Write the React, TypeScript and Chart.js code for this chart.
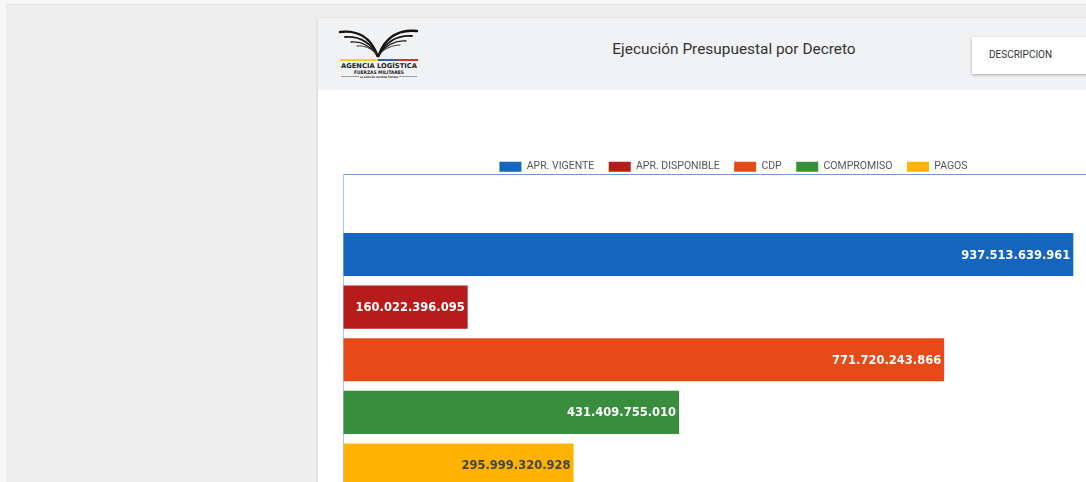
import React, { useEffect, useRef } from 'react';
import { Chart, registerables } from 'chart.js';

Chart.register(...registerables);

const categories = ['DESCRIPCION'];
const seriesLabels = ['APR. VIGENTE', 'APR. DISPONIBLE', 'CDP', 'COMPROMISO', 'PAGOS'];
const seriesValues = [937513639961, 160022396095, 771720243866, 431409755010, 295999320928];
const seriesColors = ['#1565c0', '#b71c1c', '#e64a19', '#388e3c', '#ffb300'];
const labelColors = ['#ffffff', '#ffffff', '#ffffff', '#ffffff', '#444444'];
const axisMin = 0;
const axisMax = 1000000000000;
const axisStep = 50000000000;

function fmt(v: number): string {
  return Math.round(v).toString().replace(/\B(?=(\d{3})+(?!\d))/g, '.');
}

const valueLabelPlugin = {
  id: 'valueLabels',
  afterDatasetsDraw(chart: any) {
    const ctx = chart.ctx;
    chart.data.datasets.forEach((ds: any, i: number) => {
      const meta = chart.getDatasetMeta(i);
      meta.data.forEach((bar: any, j: number) => {
        const v = ds.data[j];
        ctx.save();
        ctx.font = 'bold 11.5px "DejaVu Sans"';
        ctx.fillStyle = labelColors[i];
        ctx.textAlign = 'right';
        ctx.textBaseline = 'middle';
        ctx.fillText(fmt(v), bar.x - 3, bar.y + 1);
        ctx.restore();
      });
    });
  },
};

const legendShrinkPlugin = {
  id: 'legendShrink',
  afterInit(chart: any) {
    const legend = chart.legend;
    if (!legend) return;
    const orig = legend.fit;
    legend.fit = function () {
      orig.call(this);
      this.height -= 7.5;
    };
  },
  afterLayout(chart: any) {
    const legend = chart.legend;
    if (!legend) return;
    legend.left += 5;
    legend.right += 5;
  },
};

function Logo() {
  return (
    <svg width={84} height={56} viewBox="0 0 84 56" style={{ position: 'absolute', left: 337, top: 27 }}>
      <path d="M3 5 C 20 3, 34 10, 40.5 29" stroke="#111" strokeWidth={2.4} fill="none" strokeLinecap="round" />
      <path d="M8 10 C 22 9, 33 15, 40 28" stroke="#1a1a1a" strokeWidth={1.8} fill="none" strokeLinecap="round" />
      <path d="M14 15 C 25 14, 33 19, 39.5 27" stroke="#222" strokeWidth={1.4} fill="none" strokeLinecap="round" />
      <path d="M20 19 C 28 18, 34 22, 39 26" stroke="#333" strokeWidth={1} fill="none" strokeLinecap="round" />
      <path d="M80 4 C 62 2, 48 10, 41.5 29" stroke="#111" strokeWidth={2.4} fill="none" strokeLinecap="round" />
      <path d="M75 9 C 60 8, 49 15, 42 28" stroke="#1a1a1a" strokeWidth={1.8} fill="none" strokeLinecap="round" />
      <path d="M69 14 C 57 13, 49 19, 42.5 27" stroke="#222" strokeWidth={1.4} fill="none" strokeLinecap="round" />
      <path d="M63 18 C 55 18, 48 22, 43 26" stroke="#333" strokeWidth={1} fill="none" strokeLinecap="round" />
      <rect x={3} y={32} width={38} height={2} fill="#f2d21c" />
      <rect x={41} y={32} width={20} height={2} fill="#2a5db0" />
      <rect x={61} y={32} width={20} height={2} fill="#d32f2f" />
      <text x={42} y={41} textAnchor="middle" fontFamily="'DejaVu Sans'" fontWeight="bold" fontSize={6.6} fill="#222" textLength={76} lengthAdjust="spacingAndGlyphs">AGENCIA LOGÍSTICA</text>
      <text x={42} y={46.5} textAnchor="middle" fontFamily="'DejaVu Sans'" fontWeight="bold" fontSize={4.8} fill="#222" textLength={50} lengthAdjust="spacingAndGlyphs">FUERZAS MILITARES</text>
      <line x1={4} y1={49.5} x2={22} y2={49.5} stroke="#444" strokeWidth={0.5} />
      <line x1={62} y1={49.5} x2={80} y2={49.5} stroke="#444" strokeWidth={0.5} />
      <text x={42} y={51} textAnchor="middle" fontFamily="'DejaVu Sans'" fontWeight="bold" fontSize={3.2} fill="#333" textLength={38} lengthAdjust="spacingAndGlyphs">La unión de nuestras Fuerzas</text>
    </svg>
  );
}

export default function App() {
  const canvasRef = useRef<HTMLCanvasElement | null>(null);

  useEffect(() => {
    if (!canvasRef.current) return;
    const chart = new Chart(canvasRef.current, {
      type: 'bar',
      data: {
        labels: categories,
        datasets: seriesLabels.map((label, i) => ({
          label,
          data: [seriesValues[i]],
          backgroundColor: seriesColors[i],
          borderWidth: 0,
          categoryPercentage: 0.71,
          barPercentage: 0.82,
        })),
      },
      options: {
        indexAxis: 'y',
        animation: false,
        responsive: false,
        layout: { padding: { left: 2, right: 1, top: 0, bottom: 0 } },
        plugins: {
          legend: {
            position: 'top',
            labels: {
              boxWidth: 22,
              boxHeight: 10,
              padding: 14.5,
              color: '#555555',
              font: { family: 'Roboto', size: 10.5 },
            },
          },
          tooltip: { enabled: false },
        },
        scales: {
          x: {
            position: 'top',
            min: axisMin,
            max: axisMax,
            ticks: { display: false, stepSize: axisStep },
            grid: { drawOnChartArea: false, drawTicks: false, color: '#6c9bd9' },
            border: { color: '#6c9bd9', width: 1 },
          },
          y: {
            ticks: { display: false },
            grid: { display: false },
            border: { color: '#a9c9f5', width: 1 },
          },
        },
      } as any,
      plugins: [valueLabelPlugin, legendShrinkPlugin],
    });
    return () => chart.destroy();
  }, []);

  return (
    <div style={{ position: 'fixed', left: 0, top: 0, width: 1086, height: 482, overflow: 'hidden', background: '#f7f7f7', fontFamily: 'Roboto, sans-serif' }}>
      <div style={{ position: 'absolute', left: 6, top: 4, right: 0, bottom: 0, background: '#eeeeee', borderTop: '1px solid #e2e2e2' }} />
      <div style={{ position: 'absolute', left: 318, top: 18, width: 900, height: 600, background: '#ffffff', boxShadow: '0 1px 3px rgba(0,0,0,0.18)' }}>
        <div style={{ position: 'absolute', left: 0, top: 0, right: 0, height: 72, background: '#f1f2f4' }} />
      </div>
      <Logo />
      <div style={{ position: 'absolute', left: 484, top: 39, width: 500, lineHeight: '20px', fontSize: 15.4, color: '#333333', textAlign: 'center' }}>
        Ejecución Presupuestal por Decreto
      </div>
      <div style={{ position: 'absolute', left: 972, top: 37, width: 200, height: 37, background: '#ffffff', boxShadow: '0 1px 3px rgba(0,0,0,0.3)' }}>
        <div style={{ position: 'absolute', left: 17, top: 12, fontSize: 10, lineHeight: '12px', color: '#333333' }}>DESCRIPCION</div>
      </div>
      <div style={{ position: 'absolute', left: 333, top: 147, width: 790, height: 398 }}>
        <canvas ref={canvasRef} width={790} height={398} />
      </div>
    </div>
  );
}
